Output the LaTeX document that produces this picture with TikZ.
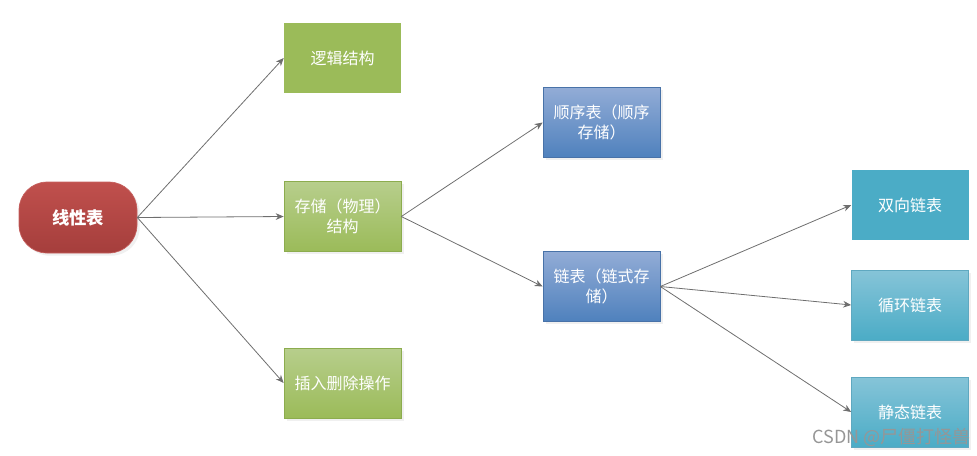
\documentclass[tikz,border=0pt]{standalone}
\usepackage{fontspec}
\setmainfont{Noto Sans CJK SC}
\usetikzlibrary{arrows.meta, positioning, shadows}
\definecolor{rootred}{RGB}{192, 80, 77}
\definecolor{rootdark}{RGB}{165, 62, 60}
\definecolor{leafgreen}{RGB}{155, 187, 89}
\definecolor{lightgreen}{RGB}{183, 206, 140}
\definecolor{edgegreen}{RGB}{140, 172, 78}
\definecolor{bluetop}{RGB}{146, 172, 214}
\definecolor{bluebot}{RGB}{79, 129, 189}
\definecolor{blueedge}{RGB}{72, 114, 168}
\definecolor{cyan}{RGB}{75, 172, 198}
\definecolor{lightcyan}{RGB}{134, 196, 216}
\definecolor{cyanedge}{RGB}{95, 168, 192}
\definecolor{arrowgray}{RGB}{110, 110, 110}
\definecolor{markgray}{RGB}{150, 150, 150}
\tikzset{
    box/.style={rectangle, align=center, text=white, minimum width=87.75pt, minimum height=52.5pt, inner sep=2pt, font=\fontsize{12}{15}\selectfont},
    shadowed/.style={drop shadow={opacity=0.12, shadow xshift=2pt, shadow yshift=-2pt}},
    greenbox/.style={box, fill=leafgreen},
    greenshade/.style={box, shadowed, draw=edgegreen, line width=0.5pt, top color=lightgreen, bottom color=leafgreen},
    bluebox/.style={box, shadowed, draw=blueedge, line width=0.5pt, top color=bluetop, bottom color=bluebot},
    cyanbox/.style={box, fill=cyan},
    cyanshade/.style={box, shadowed, draw=cyanedge, line width=0.5pt, top color=lightcyan, bottom color=cyan},
    rootbox/.style={rectangle, rounded corners=21pt, shadowed, draw=rootred!90, line width=0.5pt, top color=rootred, bottom color=rootdark, text=white, minimum width=88.5pt, minimum height=53.25pt, font=\fontsize{13}{16}\selectfont\bfseries},
    arr/.style={-{Stealth[length=6pt, width=5pt]}, arrowgray, line width=0.6pt}
}
\begin{document}
\begin{tikzpicture}[x=0.75pt, y=-0.75pt]
    \useasboundingbox (0,0) rectangle (977,455);
    % first level
    \node[rootbox] (root) at (78,217.5) {线性表};
    \node[greenbox] (logic) at (342.5,58) {逻辑结构};
    \node[greenshade] (store) at (342.5,216.5) {存储（物理）\\结构};
    \node[greenshade] (ops) at (342.5,383) {插入删除操作};
    % storage kinds
    \node[bluebox] (seq) at (601.5,122.5) {顺序表（顺序\\存储）};
    \node[bluebox] (link) at (601.5,286.5) {链表（链式存\\储）};
    % linked list kinds
    \node[cyanbox] (dbl) at (910,205) {双向链表};
    \node[cyanshade] (circ) at (910,305) {循环链表};
    \node[cyanshade] (stat) at (910,412) {静态链表};
    \draw[arr] (root.east) -- (logic.west); \draw[arr] (root.east) -- (store.west); \draw[arr] (root.east) -- (ops.west);
    \draw[arr] (store.east) -- (seq.west); \draw[arr] (store.east) -- (link.west);
    \draw[arr] (link.east) -- (dbl.west); \draw[arr] (link.east) -- (circ.west); \draw[arr] (link.east) -- (stat.west);
    % watermark
    \node[text=markgray, font=\fontsize{13.5}{15}\selectfont, anchor=east, inner sep=0pt] (mark) at (971,437) {CSDN @尸僵打怪兽};
\end{tikzpicture}
\end{document}
